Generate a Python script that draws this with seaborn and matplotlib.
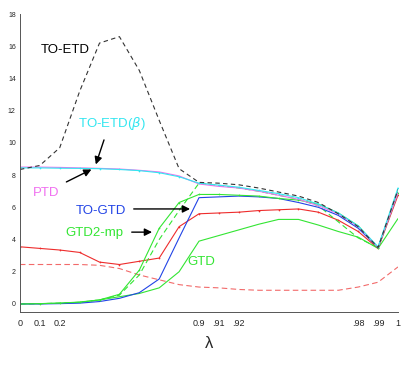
import numpy as np
import pandas as pd
import seaborn as sns
import matplotlib.pyplot as plt

# ----------------------------------
# Data
# ----------------------------------
lam_labels = ['0', '0.1', '0.2', '0.3', '0.4', '0.5', '0.6', '0.7', '0.8', '0.9',
              '.91', '.92', '.93', '.94', '.95', '.96', '.97', '.98', '.99', '1']
shown_labels = {0: '0', 1: '0.1', 2: '0.2', 9: '0.9', 10: '.91', 11: '.92',
                17: '.98', 18: '.99', 19: '1'}

to_etd = [8.35, 8.6, 9.7, 13.2, 16.2, 16.6, 14.5, 11.4, 8.4, 7.55,
          7.5, 7.4, 7.2, 6.95, 6.7, 6.3, 5.6, 4.8, 3.5, 7.1]
ptd = [8.5, 8.5, 8.48, 8.45, 8.42, 8.38, 8.3, 8.2, 7.95, 7.45,
       7.3, 7.2, 7.0, 6.75, 6.5, 6.1, 5.6, 4.8, 3.5, 6.9]
to_etd_beta = [8.45, 8.45, 8.43, 8.42, 8.4, 8.35, 8.28, 8.15, 7.9, 7.5,
               7.38, 7.25, 7.05, 6.85, 6.6, 6.2, 5.65, 4.85, 3.55, 7.2]
to_gtd = [0.0, 0.0, 0.02, 0.05, 0.15, 0.35, 0.7, 1.55, 4.1, 6.6,
          6.65, 6.7, 6.65, 6.55, 6.3, 6.0, 5.5, 4.7, 3.5, 6.95]
gtd2_mp = [0.0, 0.02, 0.05, 0.12, 0.25, 0.6, 2.1, 4.7, 6.3, 6.8,
           6.8, 6.75, 6.7, 6.55, 6.45, 6.2, 5.65, 4.85, 3.5, 6.9]
gtd2_mp_dash = [0.0, 0.02, 0.05, 0.1, 0.25, 0.55, 1.8, 4.0, 5.8, 7.5,
                7.35, 7.2, 7.0, 6.75, 6.5, 6.1, 5.1, 4.1, 3.5, 7.0]
gtd = [0.0, 0.02, 0.05, 0.1, 0.25, 0.45, 0.65, 1.0, 2.0, 3.9,
       4.25, 4.6, 4.95, 5.25, 5.25, 4.9, 4.5, 4.15, 3.45, 5.3]
red_solid = [3.55, 3.45, 3.35, 3.2, 2.6, 2.45, 2.65, 2.85, 4.8, 5.6,
             5.65, 5.7, 5.8, 5.85, 5.9, 5.7, 5.2, 4.5, 3.45, 6.75]
red_dash = [2.45, 2.45, 2.45, 2.45, 2.4, 2.2, 1.8, 1.5, 1.2, 1.05,
            1.0, 0.9, 0.85, 0.85, 0.85, 0.85, 0.85, 1.05, 1.35, 2.3]

idx = np.arange(len(lam_labels))
df = pd.DataFrame({'idx': idx, 'to_etd': to_etd, 'ptd': ptd, 'to_etd_beta': to_etd_beta,
                   'to_gtd': to_gtd, 'gtd2_mp': gtd2_mp, 'gtd2_mp_dash': gtd2_mp_dash,
                   'gtd': gtd, 'red_solid': red_solid, 'red_dash': red_dash})

# ----------------------------------
# Plot
# ----------------------------------
sns.set_style('white')
plt.rcParams['font.family'] = ['Liberation Sans', 'DejaVu Sans']

fig = plt.figure(figsize=(4.15, 3.71), dpi=100)
ax = fig.add_axes([0.048, 0.159, 0.911, 0.803])

# (column, color, linestyle, marker)
series = [
    ('red_dash', '#f26a6a', (0, (5, 3)), None),
    ('gtd', '#33e533', '-', None),
    ('red_solid', '#ee2c2c', '-', '.'),
    ('gtd2_mp_dash', '#33e533', (0, (5, 3)), None),
    ('to_gtd', '#2244e6', '-', None),
    ('gtd2_mp', '#33e533', '-', '.'),
    ('ptd', '#f070f0', '-', None),
    ('to_etd_beta', '#33e6f0', '-', '.'),
    ('to_etd', '#333333', (0, (4, 3)), None),
]
for col, color, ls, mk in series:
    sns.lineplot(data=df, x='idx', y=col, ax=ax, color=color, linestyle=ls,
                 linewidth=0.8, marker=mk, markersize=2.5, markeredgewidth=0)

ax.set_xlim(0, 19)
ax.set_ylim(-0.5, 18)
ax.set_yticks(np.arange(0, 19, 2))
ax.tick_params(axis='y', labelsize=5, direction='in', length=3, width=0.6, pad=3)

# labelled positions have no tick mark, marks sit on odd indices
ax.set_xticks(list(shown_labels.keys()))
ax.set_xticklabels(list(shown_labels.values()))
ax.set_xticks(np.arange(1, 20, 2), minor=True)
ax.tick_params(axis='x', which='major', labelsize=6.5, length=0, pad=5)
ax.tick_params(axis='x', which='minor', direction='in', length=3, width=0.6)

ax.set_xlabel('λ', fontsize=12, labelpad=6)
ax.set_ylabel('')
for s in ['top', 'right']:
    ax.spines[s].set_visible(False)
for s in ['left', 'bottom']:
    ax.spines[s].set_color('#555555')
    ax.spines[s].set_linewidth(0.7)

# labels and arrows
ax.text(1.05, 15.8, 'TO-ETD', color='black', fontsize=9.5, va='center')
ax.text(2.9, 11.2, r'TO-ETD($\beta$)', color='#33e6f0', fontsize=9.5, va='center')
ax.text(0.65, 6.9, 'PTD', color='#f070f0', fontsize=9.5, va='center')
ax.text(2.8, 5.77, 'TO-GTD', color='#2244e6', fontsize=9.5, va='center')
ax.text(2.3, 4.4, 'GTD2-mp', color='#33e533', fontsize=9.5, va='center')
ax.text(8.4, 2.6, 'GTD', color='#33e533', fontsize=9.5, va='center')

arrow = dict(arrowstyle='-|>', color='black', lw=1.0, mutation_scale=11)
ax.annotate('', xy=(3.77, 8.5), xytext=(4.27, 10.35), arrowprops=arrow)
ax.annotate('', xy=(3.72, 8.43), xytext=(2.21, 7.5), arrowprops=arrow)
ax.annotate('', xy=(8.69, 5.9), xytext=(5.58, 5.9), arrowprops=arrow)
ax.annotate('', xy=(6.78, 4.46), xytext=(5.48, 4.46), arrowprops=arrow)

plt.savefig('out.png', dpi=100)
